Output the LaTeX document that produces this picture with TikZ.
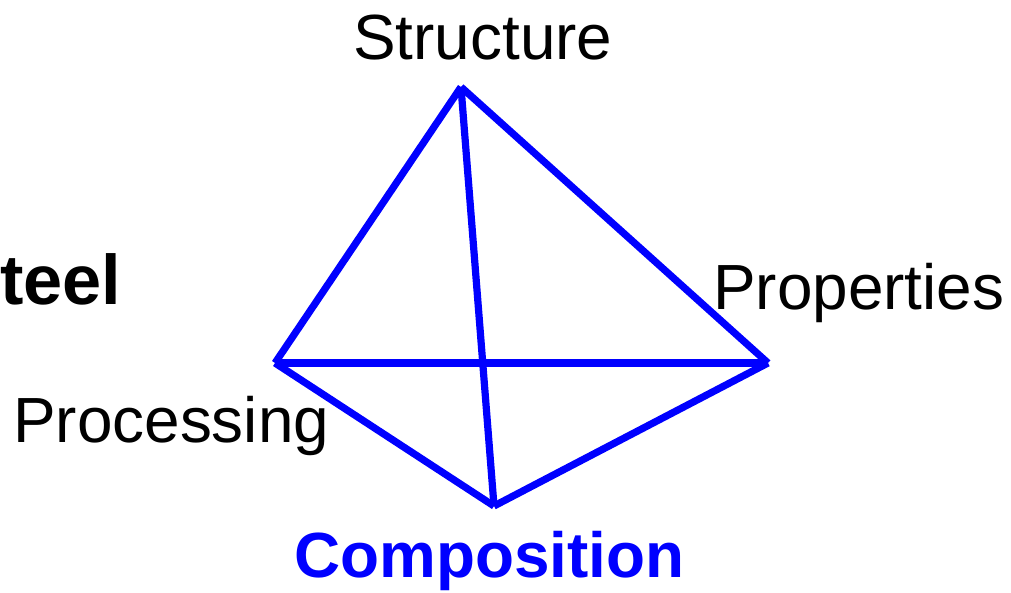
\documentclass[tikz,border=0pt]{standalone}
\usepackage{fontspec}
\setmainfont{Liberation Sans}
\usepackage{xcolor}
\usetikzlibrary{positioning, calc}

\begin{document}
\begin{tikzpicture}[
  x=0.025cm, y=-0.025cm,
  label/.style={inner sep=0pt, anchor=base west, font=\fontsize{45.4}{50}\selectfont},
  strong/.style={label, font=\fontsize{45.4}{50}\selectfont\bfseries},
  edge/.style={draw=blue, line width=0.18cm, line join=round}
]
\useasboundingbox (0,0) rectangle (1011,592);

% ---------------------------------------------------
% Corners of the tetrahedron
% ---------------------------------------------------
\coordinate (top) at (461,87);
\coordinate (left) at (275,363);
\coordinate (right) at (768,363);
\coordinate (bottom) at (494,506);

% ---------------------------------------------------
% Labels
% ---------------------------------------------------
\node[label] (structure) at (353,59) {Structure};
\node[label] (properties) at (713,309) {Properties};
\node[label] (processing) at (13,442) {Processing};
\node[strong, font=\fontsize{50}{56}\selectfont\bfseries] (steel) at (0,304) {teel};
\node[strong, text=blue] (composition) at (294,577) {Composition};

% ---------------------------------------------------
% Edges
% ---------------------------------------------------
\draw[edge] (top) -- (left);
\draw[edge] (top) -- (right);
\draw[edge] (top) -- (bottom);
\draw[edge] (left) -- (right);
\draw[edge] (left) -- (bottom);
\draw[edge] (right) -- (bottom);

\end{tikzpicture}
\end{document}
